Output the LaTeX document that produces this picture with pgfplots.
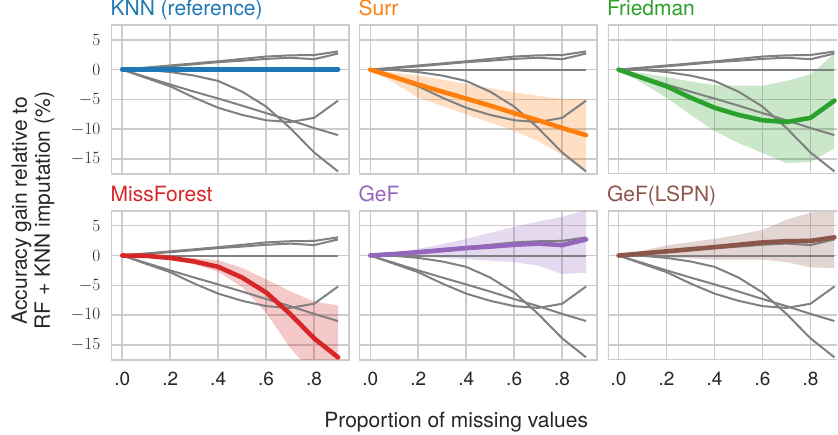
\documentclass[border=0pt]{standalone}
\usepackage[no-math]{fontspec}
\setmainfont{TeX Gyre Heros}
\usepackage{pgfplots}
\usepackage{pgfplotstable}
\pgfplotsset{compat=1.18}

\definecolor{cKNN}{HTML}{1F77B4}
\definecolor{cSurr}{HTML}{FF7F0E}
\definecolor{cFr}{HTML}{2CA02C}
\definecolor{cMF}{HTML}{D62728}
\definecolor{cGeF}{HTML}{9467BD}
\definecolor{cLS}{HTML}{8C564B}
\definecolor{gridc}{HTML}{CCCCCC}
\definecolor{grayl}{HTML}{808080}
\definecolor{txt}{HTML}{262626}

\pgfplotstableread{
x knn surr fr mf gef ls
0.0 0 0 0 0 0 0
0.1 0 -1.25 -1.4 -0.05 0.25 0.35
0.2 0 -2.5 -2.8 -0.4 0.55 0.7
0.3 0 -3.7 -4.7 -1.0 0.9 1.05
0.4 0 -4.85 -6.4 -1.9 1.25 1.4
0.5 0 -6.05 -7.6 -3.7 1.5 1.8
0.6 0 -7.3 -8.5 -6.2 1.8 2.2
0.7 0 -8.5 -8.8 -9.8 2.0 2.4
0.8 0 -9.8 -8.1 -13.9 1.75 2.45
0.9 0 -11.0 -5.2 -17.1 2.7 3.05
}\data

% bands: upper edge forward, lower edge backward
\pgfplotstableread{
x y
0.0 0
0.1 -0.5
0.2 -1.0
0.3 -1.7
0.4 -2.4
0.5 -3.1
0.6 -3.8
0.7 -4.4
0.8 -4.9
0.9 -4.9
0.9 -17.4
0.8 -14.3
0.7 -12.0
0.6 -10.3
0.5 -8.9
0.4 -7.5
0.3 -6.1
0.2 -4.7
0.1 -2.2
}\bandSurr

\pgfplotstableread{
x y
0.0 0
0.1 -0.6
0.2 -1.25
0.3 -2.0
0.4 -2.6
0.5 -2.7
0.6 -2.7
0.7 -1.9
0.8 -0.8
0.9 2.7
0.9 -13.2
0.8 -15.5
0.7 -15.7
0.6 -14.0
0.5 -12.3
0.4 -10.3
0.3 -7.6
0.2 -4.7
0.1 -2.3
}\bandFr

\pgfplotstableread{
x y
0.0 0
0.1 0
0.2 -0.2
0.3 -0.45
0.4 -0.8
0.5 -2.1
0.6 -4.0
0.7 -6.0
0.8 -7.7
0.9 -8.4
0.9 -24
0.8 -20
0.7 -15.5
0.6 -9.6
0.5 -5.3
0.4 -2.7
0.3 -1.5
0.2 -0.6
0.1 -0.1
}\bandMF

\pgfplotstableread{
x y
0.0 0
0.1 0.5
0.2 1.1
0.3 1.9
0.4 2.8
0.5 3.8
0.6 4.8
0.7 5.7
0.8 6.5
0.9 7.6
0.9 -2.9
0.8 -3.1
0.7 -1.7
0.6 -1.1
0.5 -0.85
0.4 -0.6
0.3 -0.4
0.2 -0.2
0.1 -0.1
}\bandGeF

\pgfplotstableread{
x y
0.0 0
0.1 0.8
0.2 1.7
0.3 2.25
0.4 2.8
0.5 3.5
0.6 4.3
0.7 6.0
0.8 7.2
0.9 7.6
0.9 -2.1
0.8 -2.0
0.7 -1.1
0.6 -0.7
0.5 -0.7
0.4 -0.7
0.3 -0.5
0.2 -0.3
0.1 -0.15
}\bandLS

\pgfplotsset{
  panel/.style={
    anchor=south west, scale only axis, width=237.6pt, height=149pt,
    xmin=-0.045, xmax=0.945, ymin=-17.5, ymax=7.5,
    xtick={0,0.2,0.4,0.6,0.8}, ytick={-15,-10,-5,0,5},
    grid=major, major grid style={draw=gridc, line width=1.5pt},
    axis line style={draw=gridc, line width=1.8pt},
    major tick length=0pt, tick style={draw=none},
    xticklabel style={anchor=north, inner sep=0pt, yshift=-12.5pt, font=\fontsize{19}{22}\selectfont, text=txt},
    yticklabel style={anchor=east, inner sep=0pt, xshift=-11pt, font=\fontsize{19}{22}\selectfont, text=txt},
    title style={at={(0,1)}, anchor=base west, inner sep=0pt, yshift=3.3pt, xshift=-1pt, font=\fontsize{21}{25}\selectfont},
  },
  % right column: frame cut by the picture's right edge
  cutpanel/.style={panel, width=229.6pt, xmax=0.9117, axis line style={draw=none}},
  grayline/.style={draw=grayl, line width=2pt, line join=round, no marks},
  mainline/.style={line width=4.6pt, line join=round, line cap=round, no marks},
  bandfill/.style={draw=none, fill=#1, fill opacity=0.25, no marks},
}

\newcommand{\grays}{%
  \addplot[grayline] table[x=x,y=knn]{\data};
  \addplot[grayline] table[x=x,y=surr]{\data};
  \addplot[grayline] table[x=x,y=fr]{\data};
  \addplot[grayline] table[x=x,y=mf]{\data};
  \addplot[grayline] table[x=x,y=gef]{\data};
  \addplot[grayline] table[x=x,y=ls]{\data};
}
\newcommand{\cutframe}{%
  \draw[gridc, line width=1.8pt] (rel axis cs:1.01,0) -- (rel axis cs:0,0) -- (rel axis cs:0,1) -- (rel axis cs:1.01,1);
}

\begin{document}
\begin{tikzpicture}
\path (0pt,0pt) rectangle (838pt,434pt);

% Row 1
\begin{axis}[panel, at={(111.5pt,260.8pt)}, xticklabels={}, title={\color{cKNN}KNN (reference)}]
  \grays
  \addplot[mainline, draw=cKNN] table[x=x,y=knn]{\data};
\end{axis}

\begin{axis}[panel, at={(359.7pt,260.8pt)}, xticklabels={}, yticklabels={}, title={\color{cSurr}Surr}]
  \addplot[bandfill=cSurr] table[x=x,y=y]{\bandSurr};
  \grays
  \addplot[mainline, draw=cSurr] table[x=x,y=surr]{\data};
\end{axis}

\begin{axis}[cutpanel, at={(608.2pt,260.8pt)}, xticklabels={}, yticklabels={}, title={\color{cFr}Friedman}]
  \addplot[bandfill=cFr] table[x=x,y=y]{\bandFr};
  \grays
  \addplot[mainline, draw=cFr] table[x=x,y=fr]{\data};
  \cutframe
\end{axis}

% Row 2
\begin{axis}[panel, at={(111.5pt,74.8pt)}, xticklabels={.0,.2,.4,.6,.8}, title={\color{cMF}MissForest}]
  \addplot[bandfill=cMF] table[x=x,y=y]{\bandMF};
  \grays
  \addplot[mainline, draw=cMF] table[x=x,y=mf]{\data};
\end{axis}

\begin{axis}[panel, at={(359.7pt,74.8pt)}, xticklabels={.0,.2,.4,.6,.8}, yticklabels={}, title={\color{cGeF}GeF}]
  \addplot[bandfill=cGeF] table[x=x,y=y]{\bandGeF};
  \grays
  \addplot[mainline, draw=cGeF] table[x=x,y=gef]{\data};
\end{axis}

\begin{axis}[cutpanel, at={(608.2pt,74.8pt)}, xticklabels={.0,.2,.4,.6,.8}, yticklabels={}, title={\color{cLS}GeF(LSPN)}]
  \addplot[bandfill=cLS] table[x=x,y=y]{\bandLS};
  \grays
  \addplot[mainline, draw=cLS] table[x=x,y=ls]{\data};
  \cutframe
\end{axis}

\node[anchor=base, text=txt, font=\fontsize{21}{25}\selectfont, inner sep=0pt] at (456.5pt,7pt) {Proportion of missing values};
\node[rotate=90, align=center, text=txt, font=\fontsize{21}{23}\selectfont, inner sep=0pt] at (33pt,224pt) {Accuracy gain relative to\\RF + KNN imputation (\%)};
\end{tikzpicture}
\end{document}
